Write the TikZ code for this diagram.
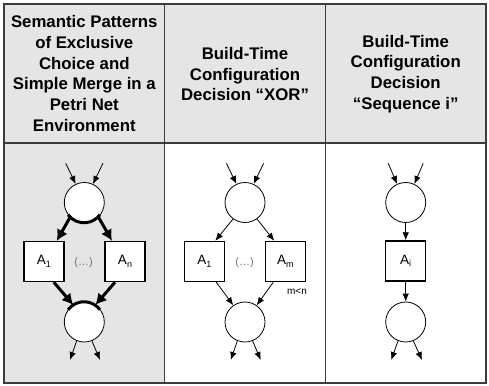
\documentclass[tikz,border=0pt]{standalone}
\usepackage{fontspec}
\setmainfont{Liberation Sans}
\usetikzlibrary{arrows.meta}
\definecolor{cellgray}{RGB}{229,229,229}
\definecolor{rulegray}{RGB}{60,60,60}
\newcommand\pnsub[1]{\raisebox{-2.4pt}{\fontsize{9}{10}\selectfont #1}}

\begin{document}
\begin{tikzpicture}[x=1pt,y=-1pt,
  headtext/.style={font=\fontsize{16.8}{20.7}\selectfont\bfseries, align=center},
  pnplace/.style={circle, draw, fill=white, minimum size=40pt, inner sep=0pt, line width=0.8pt},
  pntrans/.style={draw, fill=white, minimum size=40pt, inner sep=0pt, line width=1.4pt,
                  font=\fontsize{13.5}{15}\selectfont},
  flowarr/.style={-{Latex[length=8pt,width=6.5pt]}, line width=0.8pt},
  heavyarr/.style={-{Latex[length=11pt,width=12pt]}, line width=3pt},
  dotstext/.style={font=\fontsize{11}{12}\selectfont, text=black!55},
  gridline/.style={draw=rulegray, line width=1.2pt},
]
\useasboundingbox (0,0) rectangle (489,385);

% cell backgrounds
\fill[white] (4,4) rectangle (486,383);
\fill[cellgray] (4,4) rectangle (164.7,383);
\fill[cellgray] (164.7,4) rectangle (486,143);

% table rules
\draw[gridline] (4,4) rectangle (486,383);
\draw[gridline] (4,143) -- (486,143);
\draw[gridline] (164.7,4) -- (164.7,383);
\draw[gridline] (325.3,4) -- (325.3,383);

% column headings
\node[headtext] (h1) at (84.3,73.5) {Semantic Patterns\\of Exclusive\\Choice and\\Simple Merge in a\\Petri Net\\Environment};
\node[headtext] (h2) at (245,74) {Build-Time\\Configuration\\Decision “XOR”};
\node[headtext] (h3) at (405.7,74) {Build-Time\\Configuration\\Decision\\“Sequence i”};

% ---------- column 1: exclusive choice / simple merge ----------
\node[pnplace] (p1) at (84.3,202.5) {};
\node[pnplace] (q1) at (84.3,322) {};
\node[pntrans] (a1) at (43.8,261.5) {A\pnsub{1}};
\node[pntrans] (an) at (125,261.5) {A\pnsub{n}};
\node[dotstext] (d1) at (83.5,263) {(…)};

\coordinate (i1l) at (65.7,163.3);
\coordinate (i1r) at (102.9,163.3);
\coordinate (o1l) at (70,360);
\coordinate (o1r) at (100,360);

\draw[flowarr] (i1l) -- (p1.115);
\draw[flowarr] (i1r) -- (p1.65);
\draw[flowarr] (q1.-112) -- (o1l);
\draw[flowarr] (q1.-68) -- (o1r);

\draw[heavyarr] (p1.-134) -- ([xshift=13pt]a1.north);
\draw[heavyarr] (p1.-46) -- ([xshift=-13pt]an.north);
\draw[heavyarr] ([xshift=10pt]a1.south) -- (q1.123);
\draw[heavyarr] ([xshift=-10pt]an.south) -- (q1.57);

\draw[line width=3pt] (p1.-143) arc[start angle=-143, end angle=-37, radius=20pt];
\draw[line width=3pt] (q1.143) arc[start angle=143, end angle=37, radius=20pt];

% ---------- column 2: XOR decision ----------
\node[pnplace] (p2) at (245,202.5) {};
\node[pnplace] (q2) at (245,322) {};
\node[pntrans] (b1) at (204.3,261.5) {A\pnsub{1}};
\node[pntrans] (bm) at (285.3,261.5) {A\pnsub{m}};
\node[dotstext] (d2) at (244.5,263) {(…)};
\node[font=\fontsize{10}{11}\selectfont] (mn) at (297,292) {m<n};

\coordinate (i2l) at (226.4,163.3);
\coordinate (i2r) at (263.6,163.3);
\coordinate (o2l) at (230.7,360);
\coordinate (o2r) at (260.7,360);

\draw[flowarr] (i2l) -- (p2.115);
\draw[flowarr] (i2r) -- (p2.65);
\draw[flowarr] (q2.-112) -- (o2l);
\draw[flowarr] (q2.-68) -- (o2r);

\draw[flowarr] (p2.-126) -- ([xshift=11pt]b1.north);
\draw[flowarr] (p2.-54) -- ([xshift=-11pt]bm.north);
\draw[flowarr] ([xshift=12pt]b1.south) -- (q2.125);
\draw[flowarr] ([xshift=-12pt]bm.south) -- (q2.55);

% ---------- column 3: sequence decision ----------
\node[pnplace] (p3) at (405.7,202.5) {};
\node[pnplace] (q3) at (405.7,322) {};
\node[pntrans] (ci) at (405.7,261) {A\pnsub{i}};

\coordinate (i3l) at (388.2,163.3);
\coordinate (i3r) at (423.2,163.3);
\coordinate (o3l) at (391.2,360);
\coordinate (o3r) at (422,360);

\draw[flowarr] (i3l) -- (p3.115);
\draw[flowarr] (i3r) -- (p3.65);
\draw[flowarr] (q3.-112) -- (o3l);
\draw[flowarr] (q3.-68) -- (o3r);

\draw[flowarr] (p3) -- (ci);
\draw[flowarr] (ci) -- (q3);
\end{tikzpicture}
\end{document}
